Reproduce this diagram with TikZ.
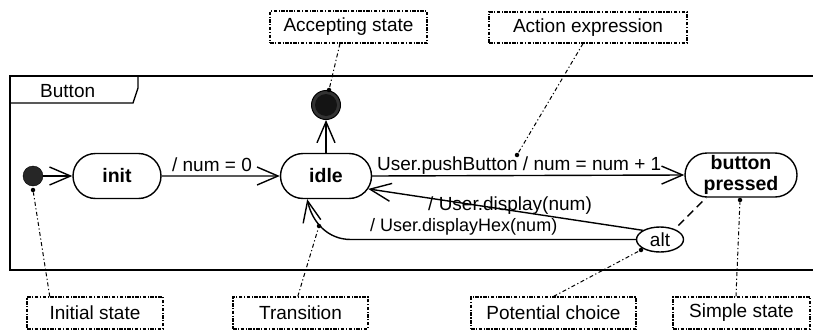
\documentclass[tikz,border=0pt]{standalone}
\usepackage{fontspec}
\setmainfont{Liberation Sans}
\usetikzlibrary{arrows.meta,shapes.misc,shapes.geometric,calc}
\begin{document}
\begin{tikzpicture}[x=1pt,y=-1pt,
  txt/.style={font=\fontsize{19}{22}\selectfont, inner sep=0pt},
  stbox/.style={rounded rectangle, draw, line width=1.4pt, minimum width=88pt, minimum height=45pt, inner sep=0pt, font=\fontsize{19.5}{21.5}\selectfont\bfseries, align=center},
  arr/.style={line width=1.4pt, -{Straight Barb[length=21pt,width=18pt,line width=1.4pt]}},
  note/.style={draw, line width=1.1pt, dash pattern=on 3.5pt off 1.5pt on 1.2pt off 1.5pt, minimum height=32pt, inner sep=0pt, font=\fontsize{19}{22}\selectfont},
  notelink/.style={line width=1pt, dash pattern=on 4pt off 2.5pt on 1.2pt off 2.5pt},
  ndot/.style={circle, fill=black, inner sep=0pt, minimum size=4.5pt}
]
\useasboundingbox (0,0) rectangle (813,332);

% frame
\draw[line width=1.7pt] (813,76) -| (10,270) -- (813,270);
\draw[line width=1.4pt] (10,103) -- (133,103) -- (138,88) -- (138,76);
\node[txt, anchor=base west] (tabtitle) at (40,97) {Button};

% states
\node[circle, draw, fill=black!85, minimum size=20pt, inner sep=0pt] (start) at (33,176) {};
\node[stbox] (init) at (117,176) {init};
\node[stbox, minimum width=91pt] (idle) at (326,176) {idle};
\node[stbox, minimum width=112pt, minimum height=44pt] (bp) at (741,175) {button\\pressed};
\node[ellipse, draw, line width=1.4pt, minimum width=47pt, minimum height=25pt, inner sep=0pt, font=\fontsize{19}{22}\selectfont] (alt) at (660,239.5) {alt};
\node[circle, draw, line width=1pt, fill=black!80, minimum size=29pt, inner sep=0pt] (final) at (326,105) {};
\fill[black!92] (final.center) circle (11pt);

% transitions
\draw[arr] (start) -- (init);
\draw[arr] (init) -- (idle);
\draw[arr] (idle.north) -- (final.south);
\draw[arr] (idle.east) -- (bp.west);
\draw[arr] (alt.152) -- (idle.-17);
\draw[arr] (alt.west) -- ++(-285,0) to[out=180,in=-78] (idle.231);
\draw[line width=1.4pt, dash pattern=on 8pt off 5pt, shorten <=5pt] (alt.35) -- (bp.213);

% labels
\node[txt, anchor=base] (l1) at (212,171) {/ num = 0};
\node[txt, anchor=base west] (l2) at (377,170) {User.pushButton / num = num + 1};
\node[txt, anchor=base west] (l3) at (428,210) {/ User.display(num)};
\node[txt, anchor=base west, font=\fontsize{18}{22}\selectfont] (l4) at (370,231) {/ User.displayHex(num)};

% annotation dots
\node[ndot] (dInit) at (33,190) {};
\node[ndot] (dAcc) at (329,90) {};
\node[ndot] (dAct) at (517,155) {};
\node[ndot] (dTrans) at (319,226) {};
\node[ndot] (dAlt) at (641,250) {};
\node[ndot] (dSimple) at (740,200) {};

% annotation boxes
\node[note, minimum width=157pt] (acc) at (348.5,27) {Accepting state};
\node[note, minimum width=198pt, minimum height=31pt] (act) at (588,27.5) {Action expression};
\node[note, minimum width=136pt] (ninit) at (95,313) {Initial state};
\node[note, minimum width=135pt] (ntrans) at (300.5,313) {Transition};
\node[note, minimum width=165pt] (nchoice) at (553.5,313) {Potential choice};
\node[note, minimum width=137pt] (nsimple) at (741.5,313) {Simple state};

% annotation links
\draw[notelink] ($(acc.south west)!0.446!(acc.south east)$) -- (dAcc);
\draw[notelink] ($(act.south west)!0.475!(act.south east)$) -- (dAct);
\draw[notelink] ($(ninit.north west)!0.17!(ninit.north east)$) -- (dInit);
\draw[notelink] ($(ntrans.north west)!0.48!(ntrans.north east)$) -- (dTrans);
\draw[notelink] (nchoice.north) -- (dAlt);
\draw[notelink] ($(nsimple.north west)!0.46!(nsimple.north east)$) -- (dSimple);
\end{tikzpicture}
\end{document}
